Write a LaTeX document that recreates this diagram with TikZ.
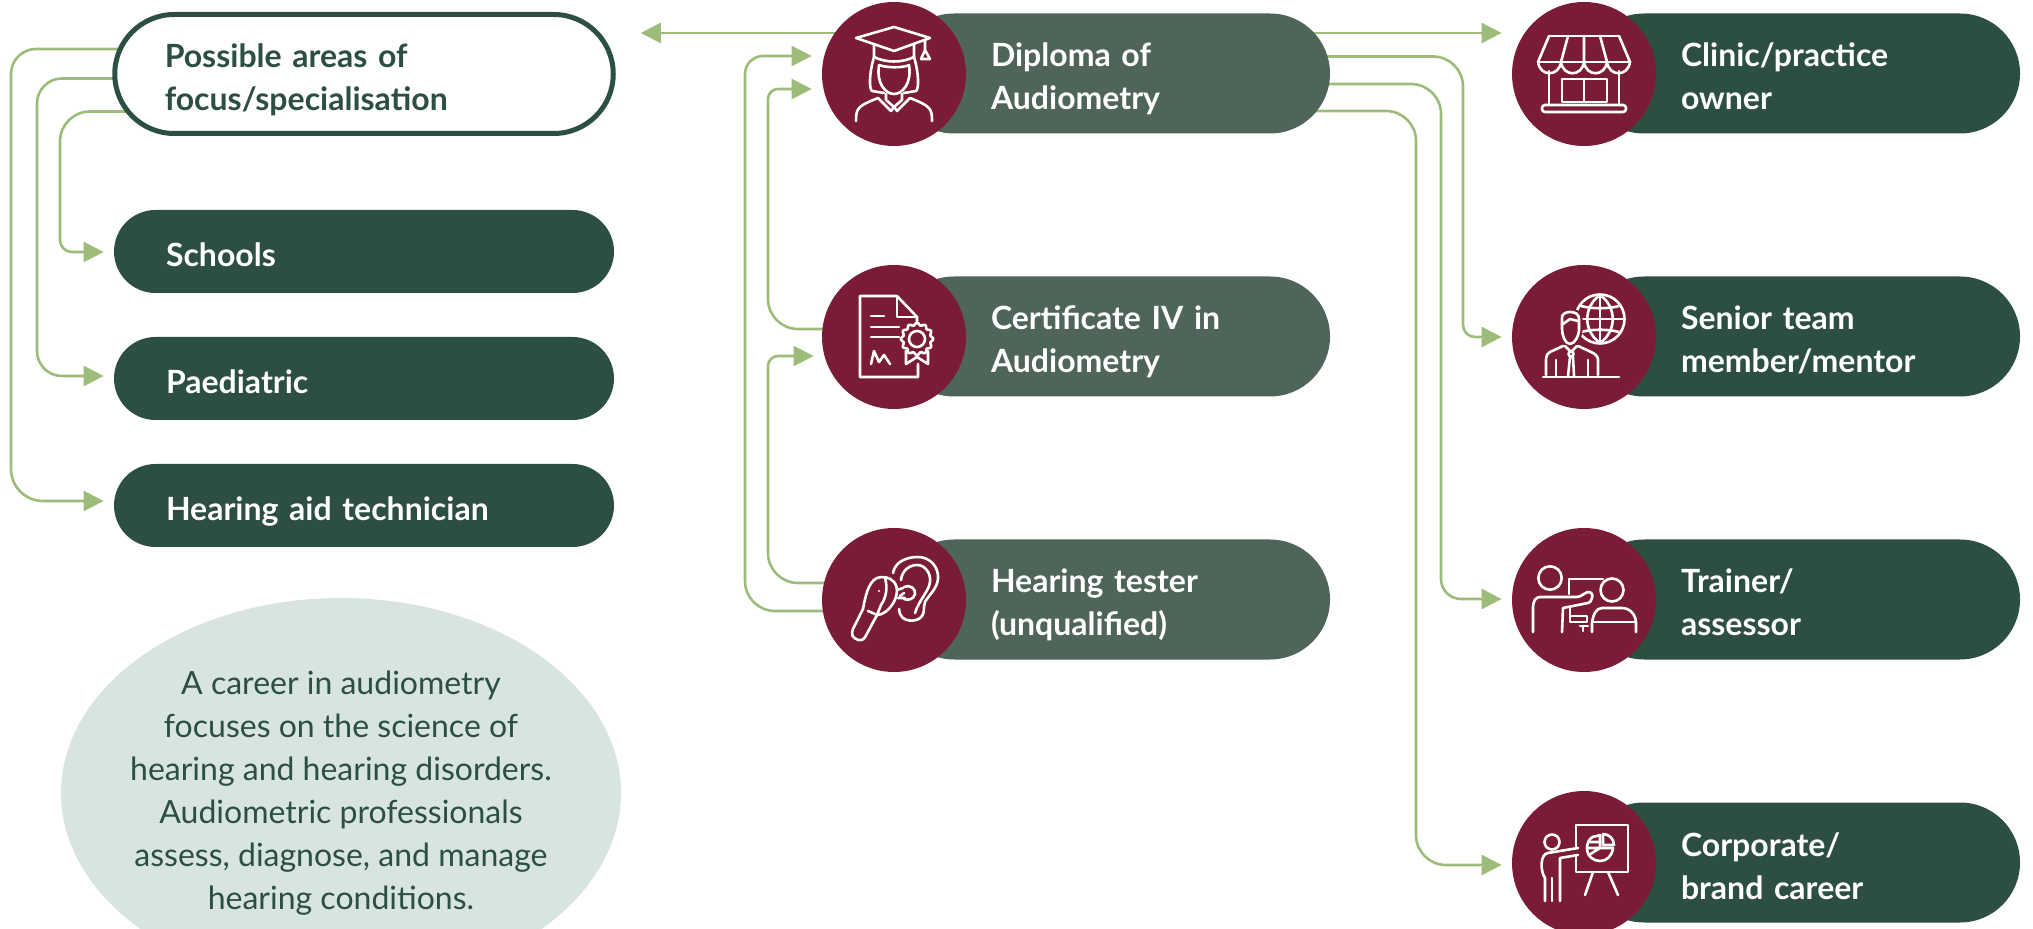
\documentclass[tikz,border=0pt]{standalone}
\usepackage{fontspec}
\setmainfont{Lato}
\usetikzlibrary{arrows.meta,calc,shapes.geometric,backgrounds}
\definecolor{darkgreen}{HTML}{2C4F42}
\definecolor{midgreen}{HTML}{4F6559}
\definecolor{wine}{HTML}{7B1C36}
\definecolor{leaf}{HTML}{9DBC79}
\definecolor{pale}{HTML}{D8E5DF}
\newcommand{\linerule}{\rule[-2.5pt]{0pt}{20pt}}
\newcommand{\noterule}{\rule[-0.7pt]{0pt}{22.7pt}}
\tikzset{
  labeltext/.style={execute at begin node=\linerule,execute at end node=\linerule,font=\fontsize{16}{21.5}\selectfont\bfseries},
  pillbase/.style={labeltext,rectangle,rounded corners=30pt,minimum height=60pt,inner xsep=48.5pt,inner ysep=0pt,text width=121pt,align=left,text=white},
  darkpill/.style={pillbase,fill=darkgreen},
  midpill/.style={pillbase,fill=midgreen},
  lowpill/.style={labeltext,rectangle,rounded corners=20.75pt,minimum height=41.5pt,inner xsep=26pt,inner ysep=0pt,text width=198pt,align=left,fill=darkgreen,text=white},
  focuspill/.style={labeltext,rectangle,rounded corners=29.75pt,minimum height=59.5pt,inner xsep=25pt,inner ysep=0pt,text width=199.25pt,align=left,draw=darkgreen,line width=2.5pt,fill=white,text=darkgreen},
  disc/.style={circle,fill=wine,minimum size=72pt,inner sep=0pt},
  conn/.style={draw=leaf,line width=1.3pt,-{Triangle[length=10pt,width=10pt]},shorten >=5pt},
  ico/.style={draw=white,line width=1.3pt,line join=round,line cap=round},
  blurb/.style={ellipse,fill=pale,minimum width=280pt,minimum height=195pt,inner sep=-40pt,align=center,text=darkgreen,execute at begin node=\noterule,execute at end node=\noterule,font=\fontsize{16}{21.5}\selectfont}
}
\begin{document}
\begin{tikzpicture}[x=0.5pt,y=-0.5pt]
\useasboundingbox (0,0) rectangle (2033,929);

% left column
\node[focuspill] (poss) at (364,74) {Possible areas of\\focus/specialisation};
\node[lowpill] (schools) at (364,251.5) {Schools};
\node[lowpill] (paed) at (364,378.5) {Paediatric};
\node[lowpill] (haid) at (364,505.5) {Hearing aid technician};

% middle column
\node[midpill] (dip) at (1112,73.5) {Diploma of\\Audiometry};
\node[midpill] (cert) at (1112,336.5) {Certificate IV in\\Audiometry};
\node[midpill] (test) at (1112,599.5) {Hearing tester\\(unqualified)};
\node[disc] (dipc) at (894,74) {};
\node[disc] (certc) at (894,337) {};
\node[disc] (testc) at (894,600) {};

% right column
\node[darkpill] (clinic) at (1802,73.5) {Clinic/practice\\owner};
\node[darkpill] (senior) at (1802,336.5) {Senior team\\member/mentor};
\node[darkpill] (train) at (1802,599.5) {Trainer/\\assessor};
\node[darkpill] (corp) at (1802,862.5) {Corporate/\\brand career};
\node[disc] (clinicc) at (1584,74) {};
\node[disc] (seniorc) at (1584,337) {};
\node[disc] (trainc) at (1584,600) {};
\node[disc] (corpc) at (1584,863) {};

% note ellipse, cut by the lower edge of the page
\begin{scope}
\clip (0,0) rectangle (2033,929);
\node[blurb] (note) at (341,793) {A career in audiometry\\focuses on the science of\\hearing and hearing disorders.\\Audiometric professionals\\assess, diagnose, and manage\\hearing conditions.};
\end{scope}

% connector start points on the two top horizontals
\coordinate (leftout) at ($(dipc.center)+(0,-41)$);
\coordinate (rightout) at ($(dip.center)+(0,-40.5)$);

% connectors
\begin{pgfonlayer}{background}
\draw[conn] ($(poss.center)+(0,-25)$) [rounded corners=12.5pt] -| (11,300) [rounded corners=16pt] |- ($(haid.west)+(0,-4.5)$);
\draw[conn] ($(poss.center)+(0,4.5)$) [rounded corners=12.5pt] -| (37,230) [rounded corners=12.5pt] |- ($(paed.west)+(0,-2.5)$);
\draw[conn] ($(poss.center)+(0,37.5)$) [rounded corners=15pt] -| (60,180) [rounded corners=6pt] |- ($(schools.west)+(0,0.5)$);
\draw[conn,shorten >=12.5pt] (leftout) -- (leftout -| poss.east);

\draw[conn] ($(testc.center)+(0,11)$) [rounded corners=15pt] -| (745,300) [rounded corners=9pt] |- ($(dipc.west)+(0,-18)$);
\draw[conn] ($(certc.center)+(0,-8)$) [rounded corners=15pt] -| (768,200) [rounded corners=5pt] |- ($(dipc.west)+(0,15)$);
\draw[conn,shorten >=4pt] ($(testc.center)+(0,-17)$) [rounded corners=15pt] -| (768,470) [rounded corners=5pt] |- ($(certc.west)+(0,19)$);

\draw[conn] (rightout) -- (rightout -| clinicc.west);
\draw[conn] ($(dip.center)+(0,-17)$) [rounded corners=15pt] -| (1463,200) [rounded corners=6pt] |- (seniorc.west);
\draw[conn] ($(dip.center)+(0,10.5)$) [rounded corners=15pt] -| (1441,340) [rounded corners=10pt] |- ($(trainc.west)+(0,-1)$);
\draw[conn] ($(dip.center)+(0,37.5)$) [rounded corners=15pt] -| (1416,480) [rounded corners=15pt] |- ($(corpc.west)+(0,2)$);
\end{pgfonlayer}

% graduate icon
\begin{scope}[shift={(dipc.center)},ico]
\draw (-38,-36) -- (0,-47) -- (36,-36) -- (0,-23) -- cycle;
\draw (-20,-29) -- (-20,-17) .. controls (-8,-11) and (8,-11) .. (20,-17) -- (20,-29);
\draw (31,-33) -- (31,-24) -- (27,-15) -- (36,-15) -- (31,-24);
\draw (-20,-17) .. controls (-25,0) and (-25,15) .. (-22,17) -- (-10,19);
\draw (20,-17) .. controls (25,0) and (25,15) .. (22,17) -- (10,19);
\draw (-15,-9) .. controls (-18,10) and (-8,20) .. (0,20) .. controls (8,20) and (18,10) .. (15,-9) .. controls (10,-6) and (-8,-6) .. (-15,-9);
\draw (-8,20) -- (-8,26) -- (0,33) -- (8,26) -- (8,20);
\draw (-16,24) -- (-3,37) -- (0,33) -- (3,37) -- (16,24);
\draw (-38,47) .. controls (-38,34) and (-36,32) .. (-16,24);
\draw (38,47) .. controls (38,34) and (36,32) .. (16,24);
\end{scope}

% certificate icon
\begin{scope}[shift={(certc.center)},ico]
\draw (24,27) -- (24,40) -- (-34,40) -- (-34,-41) -- (3,-41) -- (23,-20) -- (23,-14);
\draw (3,-41) -- (3,-20) -- (23,-20);
\draw (-23,-21) -- (-10,-21) (-23,-10) -- (5,-10) (-23,0) -- (5,0);
\draw (-23,27) -- (-20,14) -- (-15,25) -- (-10,18) -- (-4,27);
\draw plot[domain=0:360,samples=73,smooth] ({23+(15+1.3*cos(12*\x))*cos(\x)},{2+(15+1.3*cos(12*\x))*sin(\x)});
\draw (23,2) circle[radius=8];
\draw (12,14) -- (12,27) -- (23,20) -- (34,27) -- (34,14);
\end{scope}

% ear and otoscope icon
\begin{scope}[shift={(testc.center)},ico]
\draw[rounded corners=2pt] (-31,9) -- (-43,33) -- (-40,39) -- (-31,41) -- (-17,15);
\draw (-26,11) -- (-19,14);
\draw (-31,9) .. controls (-29,-2) and (-26,-18) .. (-17,-22) .. controls (-12,-24) and (-4,-23) .. (0,-18) .. controls (5,-12) and (3,-2) .. (-2,5) .. controls (-6,11) and (-12,15) .. (-17,15);
\draw (-9,-22) .. controls (-6,-12) and (-8,-2) .. (-13,5) -- (-17,15);
\fill[white] (-15,-9) circle[radius=1.2];
\draw (3,-10) -- (9,-12) (4,-2) -- (11,-2);
\draw (10,-13) .. controls (16,-16) and (22,-11) .. (21,-6) .. controls (20,-1) and (14,1) .. (10,-1);
\draw (10,-7) -- (6,-4);
\draw (-1,-27) .. controls (1,-38) and (12,-43) .. (24,-43) .. controls (36,-43) and (45,-33) .. (44,-21) .. controls (43,-11) and (34,-4) .. (31,2) .. controls (29,7) and (31,12) .. (28,16) .. controls (24,22) and (12,22) .. (8,17) .. controls (6,15) and (5,12) .. (5,9);
\draw (7,-20) .. controls (8,-30) and (16,-35) .. (23,-35) .. controls (31,-35) and (37,-27) .. (36,-18) .. controls (35,-9) and (25,0) .. (21,13);
\end{scope}

% shop icon
\begin{scope}[shift={(clinicc.center)},ico]
\draw (-35,-38) -- (35,-38) (-46,-12) -- (46,-12);
\draw (-35,-38) -- (-46,-12) (-16,-38) -- (-23,-12) (0,-38) -- (0,-12) (16,-38) -- (23,-12) (35,-38) -- (46,-12);
\draw (-46,-12) .. controls (-44,3) and (-25,3) .. (-23,-12) .. controls (-21,3) and (-2,3) .. (0,-12) .. controls (2,3) and (21,3) .. (23,-12) .. controls (25,3) and (44,3) .. (46,-12);
\draw (-35,-3) -- (-35,31) (35,-3) -- (35,31);
\draw[rounded corners=1.5pt] (-42,31) rectangle (42,38);
\draw (-22,5) rectangle (23,28);
\draw (0,5) -- (0,28);
\end{scope}

% mentor and globe icon
\begin{scope}[shift={(seniorc.center)},ico]
\draw (16,-18) circle[radius=24.5];
\draw (16,-42) -- (16,6) (-8,-18) -- (41,-18);
\draw (-3,-31) .. controls (8,-28) and (24,-28) .. (35,-31) (-3,-5) .. controls (8,-8) and (24,-8) .. (35,-5);
\draw (16,-42) .. controls (-1,-30) and (-1,-6) .. (16,6) .. controls (33,-6) and (33,-30) .. (16,-42);
\filldraw[fill=wine,preaction={draw=wine,line width=3.5pt}] (-22,-18) .. controls (-23,-23) and (-18,-25) .. (-14,-25) .. controls (-9,-25) and (-5,-23) .. (-5,-18) -- (-5,-7) .. controls (-5,-2) and (-9,7) .. (-14,7) .. controls (-19,7) and (-22,-2) .. (-22,-8) -- cycle;
\draw (-21,-13) -- (-14,-18) -- (-6,-16);
\fill[wine] (-38,38) -- (-38,23) -- (-34,15) -- (-21,9) -- (-6,9) -- (7,15) -- (14,23) -- (14,38) -- cycle;
\draw (-38,38) -- (-38,23) .. controls (-38,18) and (-36,16) .. (-34,15) -- (-21,9) (-6,9) -- (7,15) .. controls (12,17) and (14,20) .. (14,23) -- (14,38);
\draw (-41,40) -- (35,40);
\draw (-28,23) -- (-28,40) (4,23) -- (4,40);
\draw (-19,9) -- (-13,15) -- (-7,9);
\draw (-13,17) circle[radius=2.5];
\draw (-16,39) -- (-14,20) (-11,20) -- (-10,39);
\end{scope}

% trainer icon
\begin{scope}[shift={(trainc.center)},ico]
\draw (-34,-22) circle[radius=11.7];
\draw (28,-10) circle[radius=11.5];
\draw (-15,-6) -- (-15,-21) -- (19,-21);
\draw (-51,32) -- (-51,7) .. controls (-51,1) and (-48,-3) .. (-44,-3) -- (-7,-3) .. controls (-3,-3) and (0,-7) .. (4,-8) .. controls (8,-8) and (9,-5) .. (8,-2) .. controls (7,1) and (6,3) .. (4,3) -- (-21,8) -- (-22,32);
\draw (-14,8) -- (-14,22) -- (3,22) -- (3,16) -- (-14,16);
\draw (-4,26) -- (4,26) (-1,26) -- (-1,31);
\draw (8,32) -- (8,23) .. controls (9,15) and (12,8) .. (18,8) -- (38,8) .. controls (46,8) and (52,15) .. (52,23) -- (52,32);
\draw (8,22) -- (52,22);
\end{scope}

% presenter icon
\begin{scope}[shift={(corpc.center)},ico]
\draw (-8,-15) -- (-8,-38) -- (44,-38) -- (44,9) -- (-8,9) -- (-8,-7);
\draw (13,-27) .. controls (3,-27) and (3,-15) .. (3,-15) .. controls (3,-6) and (10,-2) .. (16,-2) .. controls (23,-2) and (28,-7) .. (29,-15) -- (16,-15) -- (16,-28) .. controls (15,-28) and (14,-27) .. (13,-27);
\draw (19,-29) -- (19,-18) -- (30,-18) .. controls (30,-24) and (25,-29) .. (19,-29);
\draw (5,-21) -- (16,-21) (3,-15) -- (16,-15) (5,-8) -- (16,-15);
\draw (9,9) -- (1,32) (24,9) -- (34,32);
\draw (-32,-21) circle[radius=7.5];
\draw (-39,38) -- (-39,15) .. controls (-44,8) and (-44,-9) .. (-36,-10) -- (-6,-15) (-6,-8) -- (-24,-5) -- (-24,38);
\draw (-32,15) -- (-32,38);
\end{scope}
\end{tikzpicture}
\end{document}
